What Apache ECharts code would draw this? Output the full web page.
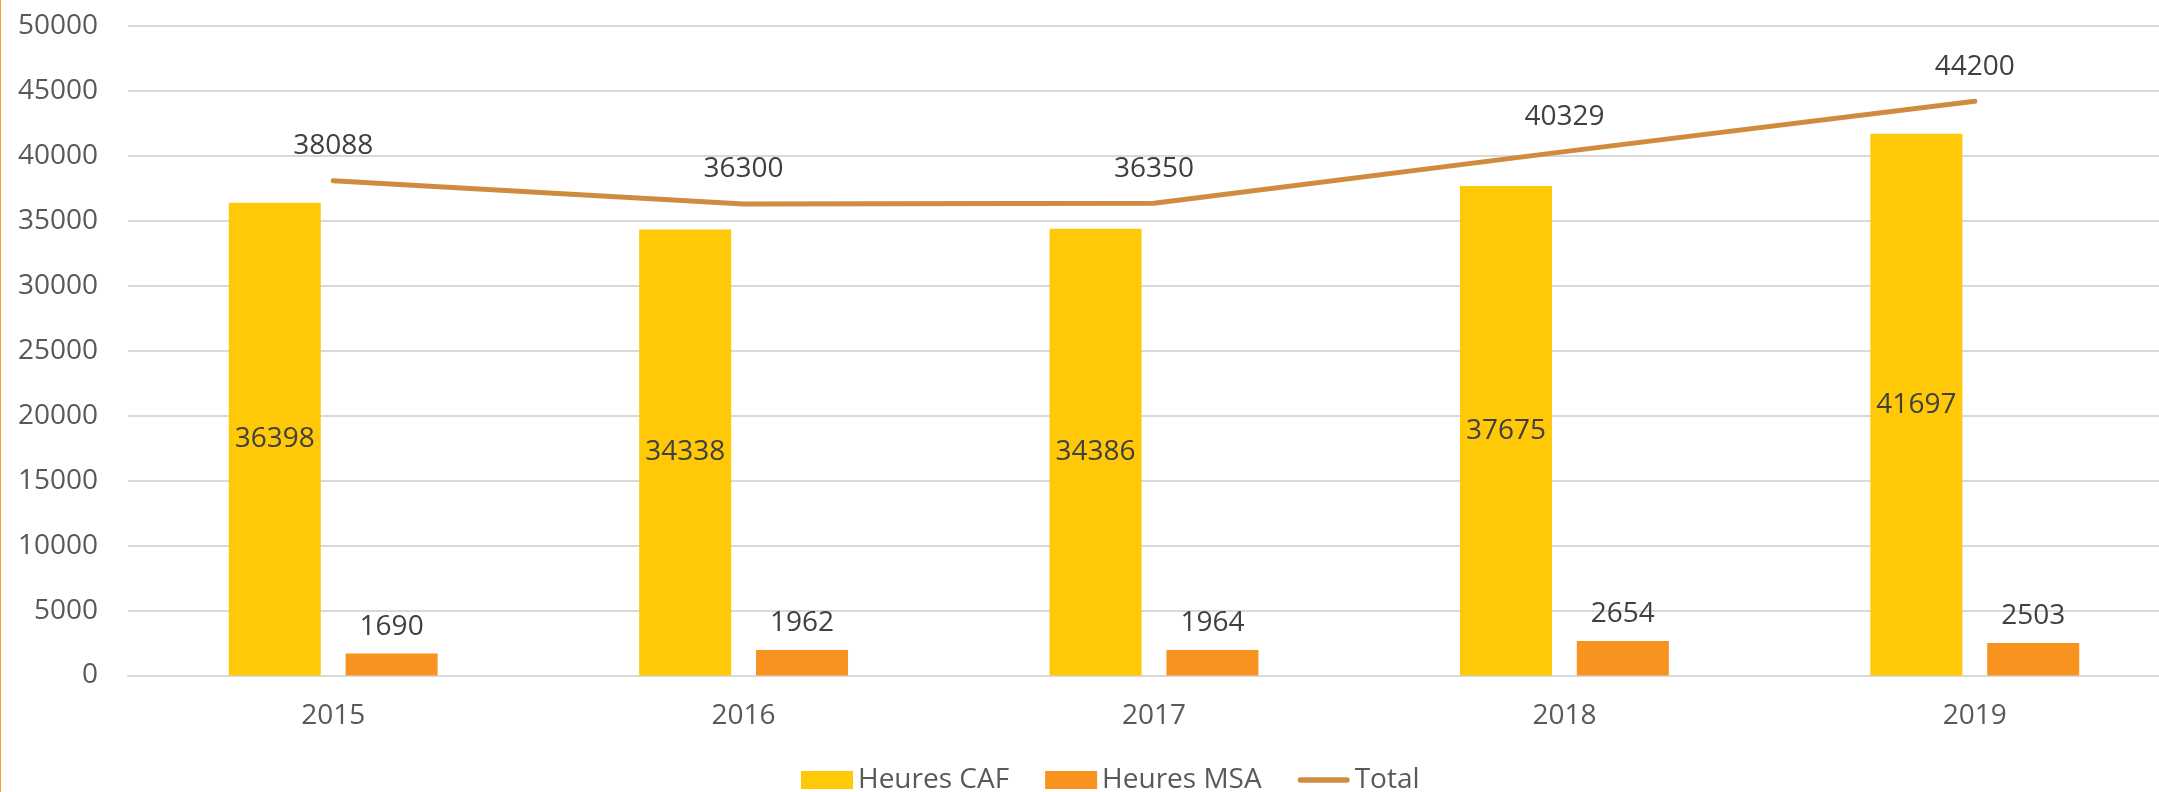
<!DOCTYPE html>
<html>
<head>
<meta charset="utf-8">
<script src="https://cdn.jsdelivr.net/npm/echarts@6/dist/echarts.min.js"></script>
<style>
  html, body { margin: 0; padding: 0; background: #ffffff; }
  #wrap { position: relative; width: 2159px; height: 792px; }
  #chart { position: absolute; left: 0; top: 0; width: 2159px; height: 792px; }
  #edge { position: absolute; left: 0; top: 0; width: 1px; height: 792px; background: #F7A035; }
</style>
</head>
<body>
<div id="wrap">
  <div id="chart"></div>
  <div id="edge"></div>
</div>
<script>
const categories = ['2015', '2016', '2017', '2018', '2019'];
const heuresCAF = [36398, 34338, 34386, 37675, 41697];
const heuresMSA = [1690, 1962, 1964, 2654, 2503];
const total = [38088, 36300, 36350, 40329, 44200];
const seriesNames = ['Heures CAF', 'Heures MSA', 'Total'];
const yTicks = { min: 0, max: 50000, interval: 5000 };

const FONT = '"Open Sans", "Noto Sans", sans-serif';
const chart = echarts.init(document.getElementById('chart'), null, { renderer: 'canvas' });

chart.setOption({
  animation: false,
  backgroundColor: '#ffffff',
  textStyle: { fontFamily: FONT },
  grid: { left: 128, right: -21, top: 26, bottom: 116.5, containLabel: false, outerBoundsMode: 'none' },
  legend: {
    left: 801,
    top: 766,
    padding: 0,
    itemWidth: 52,
    itemHeight: 18,
    itemGap: 36,
    textStyle: { fontFamily: FONT, fontSize: 28, color: '#595959', padding: [0, 0, 0, 0] },
    data: [
      { name: seriesNames[0], icon: 'rect' },
      { name: seriesNames[1], icon: 'rect' },
      { name: seriesNames[2], icon: 'path://M3,0 L53,0 A3,3 0 0 1 53,6 L3,6 A3,3 0 0 1 3,0 Z' }
    ]
  },
  xAxis: {
    type: 'category',
    data: categories,
    axisLine: { show: true, lineStyle: { color: '#D9D9D9', width: 2 } },
    axisTick: { show: false },
    axisLabel: { fontFamily: FONT, fontSize: 28, color: '#595959', margin: 27 }
  },
  yAxis: {
    type: 'value',
    min: yTicks.min,
    max: yTicks.max,
    interval: yTicks.interval,
    axisLine: { show: false },
    axisTick: { show: false },
    splitLine: { lineStyle: { color: '#D9D9D9', width: 2 } },
    axisLabel: { fontFamily: FONT, fontSize: 28, color: '#595959', margin: 30, formatter: function (v) { return String(v); } }
  },
  series: [
    {
      name: seriesNames[0],
      type: 'bar',
      data: heuresCAF,
      barWidth: 92,
      barGap: '27%',
      itemStyle: { color: '#FFC907' },
      label: { show: true, position: 'inside', fontFamily: FONT, fontSize: 28, color: '#404040' }
    },
    {
      name: seriesNames[1],
      type: 'bar',
      data: heuresMSA,
      barWidth: 92,
      barGap: '27%',
      itemStyle: { color: '#F7931E' },
      label: { show: true, position: 'top', distance: 13, fontFamily: FONT, fontSize: 28, color: '#404040' }
    },
    {
      name: seriesNames[2],
      type: 'line',
      data: total,
      symbol: 'circle',
      symbolSize: 1,
      showSymbol: true,
      smooth: false,
      itemStyle: { color: '#D08C3E' },
      lineStyle: { color: '#D08C3E', width: 5, cap: 'round', join: 'round' },
      label: { show: true, position: 'top', distance: 20, fontFamily: FONT, fontSize: 28, color: '#404040' },
      z: 5
    }
  ]
});
</script>
</body>
</html>
